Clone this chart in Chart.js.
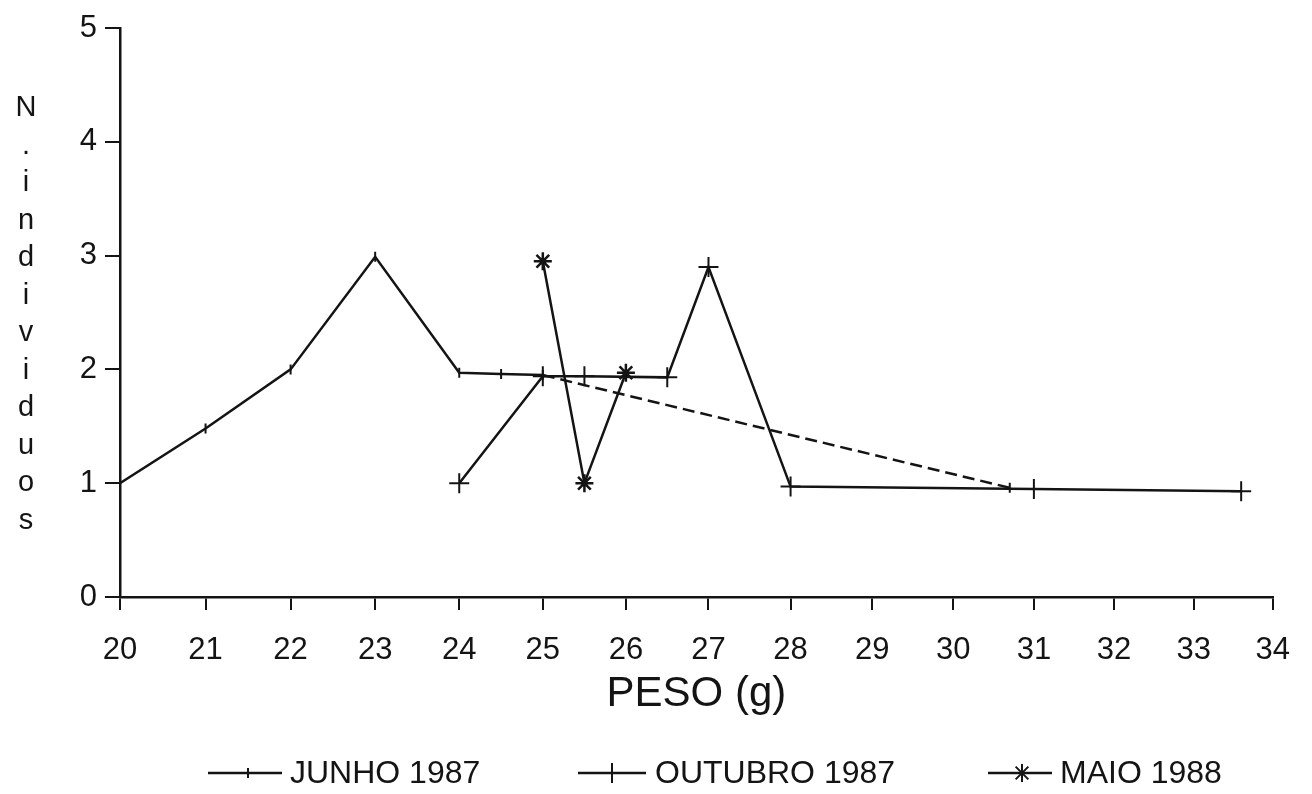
<!DOCTYPE html>
<html>
<head>
<meta charset="utf-8">
<script src="https://cdn.jsdelivr.net/npm/chart.js@4.4.1/dist/chart.umd.min.js"></script>
<style>
  html, body { margin: 0; padding: 0; background: #fff; }
</style>
</head>
<body>
<canvas id="peso-chart" width="1312" height="794"></canvas>
<script>
"use strict"

// tick labels
const xTicks = [20, 21, 22, 23, 24, 25, 26, 27, 28, 29, 30, 31, 32, 33, 34];
const yTicks = [0, 1, 2, 3, 4, 5];

// series names
const seriesNames = ["JUNHO 1987", "OUTUBRO 1987", "MAIO 1988"];

// JUNHO 1987
const junhoPeso = [20, 21, 22, 23, 24, 24.5, 25, 30.7];
const junhoN = [1, 1.48, 2, 2.99, 1.97, 1.96, 1.95, 0.96];

// OUTUBRO 1987
const outubroPeso = [24, 25, 25.5, 26.5, 27, 28, 31, 33.6];
const outubroN = [1, 1.94, 1.94, 1.93, 2.9, 0.97, 0.95, 0.93];

// MAIO 1988
const maioPeso = [25, 25.5, 26];
const maioN = [2.95, 1, 1.97];

const yTitle = "N.individuos";

const INK = "#141414";
const FONT = "'Liberation Sans', Arial, sans-serif";

// the old plot's x axis is a little stretched on the left, so the
// scale gets a small bend (still a linear scale otherwise)
const WARP = 0.042;

class WarpScale extends Chart.LinearScale {
  getPixelForValue(value) {
    const t = (value - this.min) / (this.max - this.min);
    return this.getPixelForDecimal(t + WARP * t * (1 - t));
  }
  getValueForPixel(pixel) {
    const w = this.getDecimalForPixel(pixel);
    // solve WARP*t^2 - (1+WARP)*t + w = 0
    const a = WARP, b = -(1 + WARP);
    const t = (-b - Math.sqrt(b * b - 4 * a * w)) / (2 * a);
    return this.min + t * (this.max - this.min);
  }
}
WarpScale.id = "warp";
WarpScale.defaults = Chart.LinearScale.defaults;
Chart.register(WarpScale);

function toPoints(xs, ys) {
  const pts = [];
  for (let i = 0; i < xs.length; i++) {
    pts.push({ x: xs[i], y: ys[i] });
  }
  return pts;
}

// stacked letters on the left, upright, top to bottom
const yTitlePlugin = {
  id: "yTitle",
  afterDraw(chart) {
    const ctx = chart.ctx;
    const chars = yTitle.split("");
    ctx.save();
    ctx.fillStyle = INK;
    ctx.font = "29px " + FONT;
    ctx.textAlign = "center";
    ctx.textBaseline = "middle";
    for (let i = 0; i < chars.length; i++) {
      ctx.fillText(chars[i], 26, 108 + i * 37.5);
    }
    ctx.restore();
  },
};

// legend under the axis title: line + marker + text
const legendPlugin = {
  id: "lineLegend",
  afterDraw(chart) {
    const ctx = chart.ctx;
    const y = 773;
    const items = [
      { x0: 208, x1: 282, mx: 248, tx: 290 },
      { x0: 578, x1: 646, mx: 612, tx: 655 },
      { x0: 988, x1: 1052, mx: 1022, tx: 1060 },
    ];
    ctx.save();
    ctx.font = "32px " + FONT;
    ctx.textBaseline = "middle";
    ctx.textAlign = "left";
    items.forEach((it, i) => {
      const ds = chart.data.datasets[i];
      ctx.strokeStyle = INK;
      ctx.fillStyle = INK;
      ctx.lineWidth = 2.5;
      ctx.beginPath();
      ctx.moveTo(it.x0, y);
      ctx.lineTo(it.x1, y);
      ctx.stroke();
      ctx.lineWidth = 2;
      Chart.helpers.drawPoint(ctx, {
        pointStyle: ds.pointStyle,
        rotation: ds.pointRotation || 0,
        radius: ds.pointRadius,
        borderWidth: 2,
      }, it.mx, y);
      ctx.fillText(seriesNames[i], it.tx, y + 1);
    });
    ctx.restore();
  },
};

const ctx = document.getElementById("peso-chart");

new Chart(ctx, {
  type: "line",
  data: {
    datasets: [
      {
        label: seriesNames[0],
        data: toPoints(junhoPeso, junhoN),
        borderColor: INK,
        backgroundColor: INK,
        borderWidth: 2.5,
        pointStyle: "line",
        pointRotation: 90,
        pointRadius: 5,
        pointBorderWidth: 2,
        segment: {
          borderDash: (c) => (c.p0DataIndex === 6 ? [12, 6] : undefined),
        },
      },
      {
        label: seriesNames[1],
        data: toPoints(outubroPeso, outubroN),
        borderColor: INK,
        backgroundColor: INK,
        borderWidth: 2.5,
        pointStyle: "cross",
        pointRadius: 10,
        pointBorderWidth: 2,
      },
      {
        label: seriesNames[2],
        data: toPoints(maioPeso, maioN),
        borderColor: INK,
        backgroundColor: INK,
        borderWidth: 2.5,
        pointStyle: "star",
        pointRadius: 9,
        pointBorderWidth: 2.5,
      },
    ],
  },
  options: {
    responsive: false,
    animation: false,
    devicePixelRatio: 1,
    layout: {
      padding: { left: 0, right: 31, top: 28, bottom: 0 },
    },
    plugins: {
      legend: { display: false },
      tooltip: { enabled: false },
    },
    scales: {
      x: {
        type: "warp",
        min: 20,
        max: 34,
        afterBuildTicks: (scale) => {
          scale.ticks = xTicks.map((v) => ({ value: v }));
        },
        afterFit: (scale) => {
          scale.height = 197;
        },
        grid: {
          drawOnChartArea: false,
          drawTicks: true,
          tickLength: 13,
          color: INK,
          lineWidth: 2,
        },
        border: { display: true, color: INK, width: 2.5 },
        ticks: {
          color: INK,
          padding: 22,
          maxRotation: 0,
          font: { family: FONT, size: 31 },
        },
        title: {
          display: true,
          text: "PESO (g)",
          color: INK,
          font: { family: FONT, size: 42 },
          padding: { top: 0, bottom: 74 },
        },
      },
      y: {
        min: 0,
        max: 5,
        afterBuildTicks: (scale) => {
          scale.ticks = yTicks.map((v) => ({ value: v }));
        },
        afterFit: (scale) => {
          scale.width = 120;
        },
        grid: {
          drawOnChartArea: false,
          drawTicks: true,
          tickLength: 15,
          color: INK,
          lineWidth: 2,
        },
        border: { display: true, color: INK, width: 2.5 },
        ticks: {
          color: INK,
          padding: 8,
          font: { family: FONT, size: 31 },
        },
      },
    },
  },
  plugins: [yTitlePlugin, legendPlugin],
});
</script>
</body>
</html>
